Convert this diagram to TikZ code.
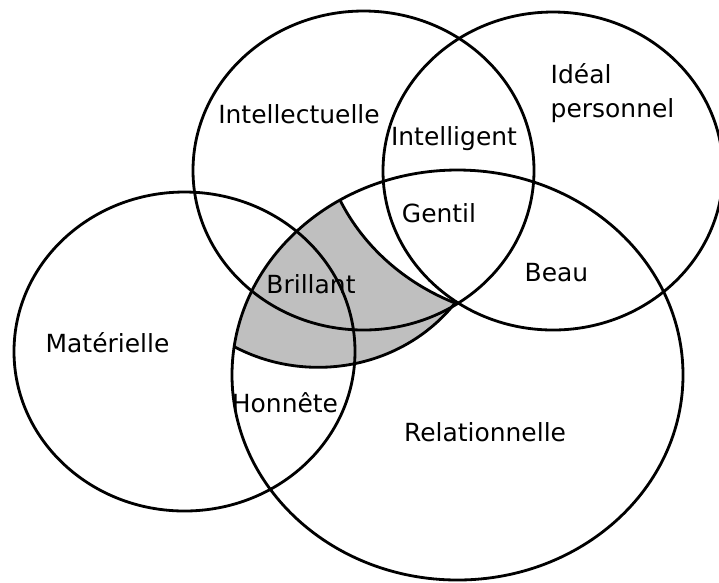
\documentclass[tikz,border=0pt]{standalone}
\usepackage{fontspec}
\newfontfamily\vennfont{DejaVu Sans}

\begin{document}
\begin{tikzpicture}[
  ring/.style={draw=black,line width=0.8pt},
  tag/.style={font=\vennfont\fontsize{7.1pt}{9.6pt}\selectfont,inner sep=0pt}
]
\useasboundingbox (0,0) rectangle (7.190,-5.820);
\begin{scope}
\clip (4.575,-3.750) ellipse [x radius=2.255,y radius=2.050];
\clip (3.182,-2.078) ellipse [x radius=1.705,y radius=1.595];
\fill[black!25,even odd rule] (0,0) rectangle (7.190,-5.820) (5.453,-1.151) ellipse [x radius=2.255,y radius=2.050];
\end{scope}
\draw[ring] (3.635,-1.705) ellipse [x radius=1.705,y radius=1.595];
\draw[ring] (5.530,-1.710) ellipse [x radius=1.700,y radius=1.590];
\draw[ring] (1.845,-3.515) ellipse [x radius=1.705,y radius=1.595];
\draw[ring] (4.575,-3.750) ellipse [x radius=2.255,y radius=2.050];
\begin{scope}
\clip (4.575,-3.750) ellipse [x radius=2.255,y radius=2.050];
\clip (3.182,-2.078) ellipse [x radius=1.705,y radius=1.595];
\draw[ring] (5.453,-1.151) ellipse [x radius=2.255,y radius=2.050];
\end{scope}
\begin{scope}[even odd rule]
\clip (4.575,-3.750) ellipse [x radius=2.255,y radius=2.050];
\clip (0,0) rectangle (7.190,-5.820) (5.453,-1.151) ellipse [x radius=2.255,y radius=2.050];
\draw[ring] (3.182,-2.078) ellipse [x radius=1.705,y radius=1.595];
\end{scope}
\node[tag] (intellectuelle) at (2.990,-1.140) {Intellectuelle};
\node[tag] (intelligent) at (4.540,-1.385) {Intelligent};
\node[tag,align=left,anchor=north west] (ideal) at (5.500,-0.630) {Idéal\\personnel};
\node[tag] (gentil) at (4.390,-2.135) {Gentil};
\node[tag] (beau) at (5.565,-2.725) {Beau};
\node[tag] (brillant) at (3.110,-2.840) {Brillant};
\node[tag] (materielle) at (1.075,-3.425) {Matérielle};
\node[tag] (honnete) at (2.850,-4.030) {Honnête};
\node[tag] (relationnelle) at (4.850,-4.325) {Relationnelle};
\end{tikzpicture}
\end{document}
